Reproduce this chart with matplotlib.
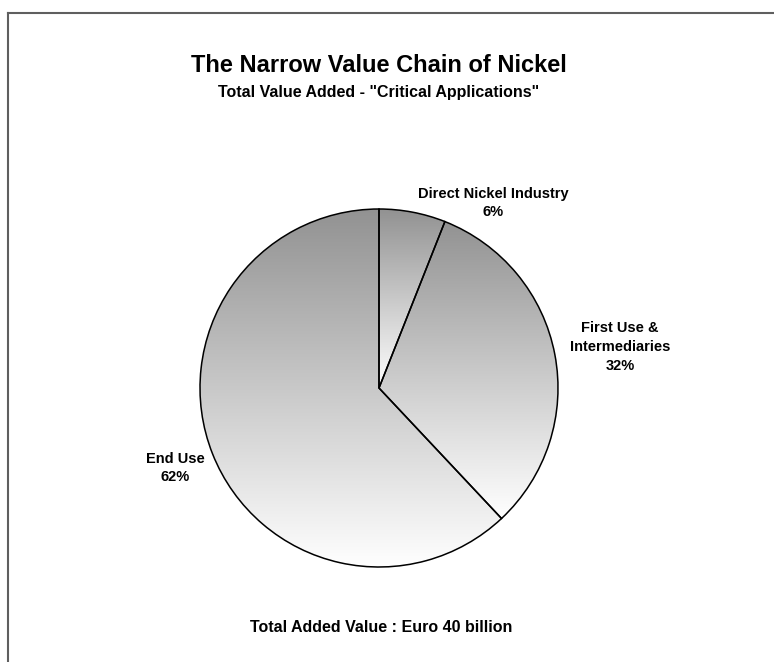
import numpy as np
import matplotlib
matplotlib.use("Agg")
import matplotlib.pyplot as plt
from matplotlib.colors import LinearSegmentedColormap

labels = ["Direct Nickel Industry", "First Use &\nIntermediaries", "End Use"]
shares = [6, 32, 62]
title = "The Narrow Value Chain of Nickel"
subtitle = 'Total Value Added - "Critical Applications"'
footer = "Total Added Value : Euro 40 billion"

W, H = 774, 662
fig = plt.figure(figsize=(W / 100, H / 100), dpi=100)
ax = fig.add_axes([0, 0, 1, 1])

plt.rcParams["font.family"] = ["Liberation Sans", "DejaVu Sans"]
FAM = ["Liberation Sans", "DejaVu Sans"]

cx, cy, r = 379, H - 388, 179
wedges, _ = ax.pie(shares, startangle=90, counterclock=False, center=(cx, cy),
                   radius=r, frame=True,
                   wedgeprops=dict(facecolor="none", edgecolor="black", linewidth=1.1))

cmap = LinearSegmentedColormap.from_list("g", ["#ffffff", "#929292"])
grad = np.linspace(0, 1, 256).reshape(-1, 1)
for w in wedges:
    w.set_zorder(3)
    bb = w.get_path().get_extents()
    im = ax.imshow(grad, cmap=cmap, origin="lower", aspect="auto",
                   extent=[bb.x0, bb.x1, bb.y0, bb.y1], zorder=2, interpolation="bilinear")
    im.set_clip_path(w)
ax.set_xlim(0, W)
ax.set_ylim(0, H)
ax.axis("off")

# Labels
pos = [(493, 203), (620, 347), (175, 468)]
for (x, y), lab, s in zip(pos, labels, shares):
    ax.text(x, H - y, f"{lab}\n{s}%", ha="center", va="center", fontsize=10.5,
            fontweight="bold", linespacing=1.45, family=FAM)

ax.text(379, H - 65, title, ha="center", va="center", fontsize=17, fontweight="bold", family=FAM)
ax.text(379, H - 92, subtitle, ha="center", va="center", fontsize=11.5, fontweight="bold", family=FAM)
ax.text(381, H - 627, footer, ha="center", va="center", fontsize=11.5, fontweight="bold", family=FAM)

# Frame
ax.plot([8, 8], [-10, H - 13], color="#5f5f5f", lw=1.5, solid_capstyle="projecting", zorder=5)
ax.plot([8, W + 10], [H - 13, H - 13], color="#5f5f5f", lw=1.5, solid_capstyle="projecting", zorder=5)

fig.savefig("out.png", dpi=100)
